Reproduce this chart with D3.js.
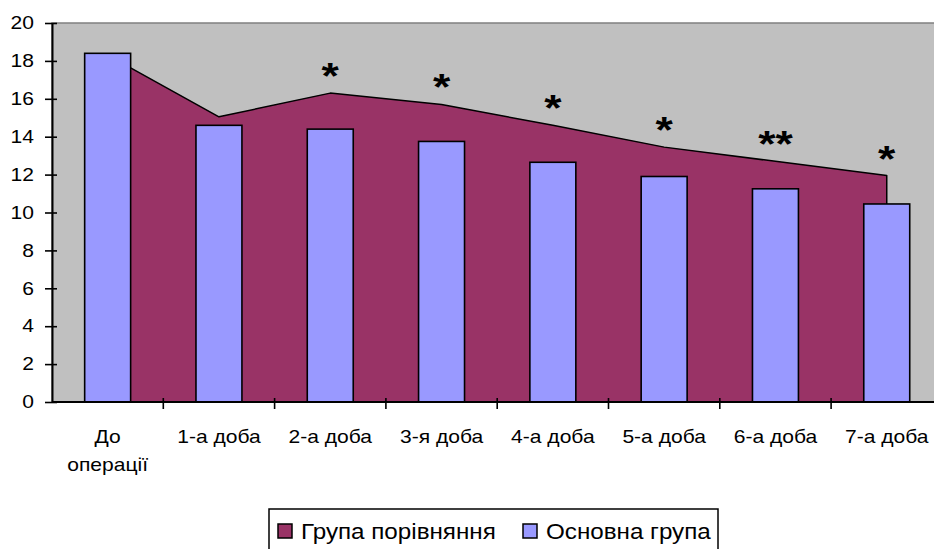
<!DOCTYPE html>
<html>
<head>
<meta charset="utf-8">
<script src="https://cdn.jsdelivr.net/npm/d3@7"></script>
<style>
  body { margin: 0; background: #fff; }
  svg { display: block; font-family: Arial, 'Liberation Sans', sans-serif; }
</style>
</head>
<body>
<div class="canvas"></div>
<script>
// data
const categories = ['До операції', '1-а доба', '2-а доба', '3-я доба', '4-а доба', '5-а доба', '6-а доба', '7-а доба'];
const comparisonGroup = [18.3, 15.05, 16.3, 15.7, 14.6, 13.45, 12.7, 11.95];
const mainGroup = [18.4, 14.6, 14.4, 13.75, 12.65, 11.9, 11.25, 10.45];
const significance = ['', '', '*', '*', '*', '*', '**', '*'];
const yTicks = [0, 2, 4, 6, 8, 10, 12, 14, 16, 18, 20];
const seriesNames = ['Група порівняння', 'Основна група'];

const colors = { comparison: '#993366', main: '#9999FF', plot: '#C0C0C0' };
const stretch = 1.17; // the original text is drawn wider than it is tall

const dims = { width: 934, height: 549 };
const plot = { left: 52, top: 23, step: 111.3, bottom: 402 };
plot.right = plot.left + plot.step * categories.length;

const svg = d3.select('.canvas')
    .append('svg')
    .attr('width', dims.width)
    .attr('height', dims.height);

const x = d3.scaleBand()
    .domain(categories)
    .range([plot.left, plot.right])
    .paddingInner(0.587)
    .paddingOuter(0.2935);

const y = d3.scaleLinear()
    .domain([0, 20])
    .range([plot.bottom, plot.top]);

const cx = c => x(c) + x.bandwidth() / 2;

// plot area background
svg.append('rect')
    .attr('x', plot.left)
    .attr('y', plot.top)
    .attr('width', plot.right - plot.left)
    .attr('height', plot.bottom - plot.top)
    .attr('fill', colors.plot)
    .attr('stroke', '#808080')
    .attr('stroke-width', 1.5);

// area series
const area = d3.area()
    .x((d, i) => cx(categories[i]))
    .y0(y(0))
    .y1(d => y(d));

svg.append('path')
    .datum(comparisonGroup)
    .attr('d', area)
    .attr('fill', colors.comparison)
    .attr('stroke', '#000')
    .attr('stroke-width', 1.5)
    .attr('stroke-linejoin', 'round');

// column series
svg.append('g')
    .selectAll('rect')
    .data(mainGroup)
    .enter()
    .append('rect')
        .attr('x', (d, i) => x(categories[i]))
        .attr('y', d => y(d))
        .attr('width', x.bandwidth())
        .attr('height', d => y(0) - y(d))
        .attr('fill', colors.main)
        .attr('stroke', '#000')
        .attr('stroke-width', 1.6);

// significance marks above the area line
significance.forEach((s, i) => {
    if (!s) return;
    svg.append('g')
        .attr('transform', `translate(${cx(categories[i])}, ${y(comparisonGroup[i]) - 4}) scale(1.2,1)`)
        .append('text')
            .attr('text-anchor', 'middle')
            .attr('font-size', 37)
            .attr('font-weight', 'bold')
            .text(s);
});

// y axis
const yAxis = d3.axisLeft(y)
    .tickValues(yTicks)
    .tickSizeOuter(0)
    .tickSizeInner(7);

const yAxisGroup = svg.append('g')
    .attr('transform', `translate(${plot.left}, 0)`)
    .call(yAxis);

yAxisGroup.select('.domain').attr('stroke', '#000').attr('stroke-width', 2);
yAxisGroup.selectAll('.tick line').attr('x2', -7).attr('x1', 5).attr('stroke-width', 1.6);
yAxisGroup.selectAll('.tick text')
    .attr('x', -18 / stretch)
    .attr('transform', `scale(${stretch},1)`)
    .attr('font-size', 18)
    .attr('fill', '#000')
    .attr('font-family', 'Arial, Liberation Sans, sans-serif');

// x axis (ticks between categories)
svg.append('line')
    .attr('x1', plot.left)
    .attr('x2', plot.right)
    .attr('y1', plot.bottom)
    .attr('y2', plot.bottom)
    .attr('stroke', '#000')
    .attr('stroke-width', 2);

svg.append('g')
    .selectAll('line')
    .data(d3.range(1, categories.length))
    .enter()
    .append('line')
        .attr('x1', i => plot.left + i * x.step())
        .attr('x2', i => plot.left + i * x.step())
        .attr('y1', plot.bottom - 4)
        .attr('y2', plot.bottom + 7)
        .attr('stroke', '#000')
        .attr('stroke-width', 1.6);

const xLabels = svg.append('g')
    .selectAll('g')
    .data(categories)
    .enter()
    .append('g')
        .attr('transform', d => `translate(${cx(d)}, 443) scale(${stretch},1)`);

xLabels.each(function(d) {
    const words = d === 'До операції' ? ['До', 'операції'] : [d];
    d3.select(this).selectAll('text')
        .data(words)
        .enter()
        .append('text')
            .attr('text-anchor', 'middle')
            .attr('y', (w, j) => j * 28)
            .attr('font-size', 18)
            .text(w => w);
});

// legend
const legend = svg.append('g');

legend.append('rect')
    .attr('x', 269)
    .attr('y', 509)
    .attr('width', 449)
    .attr('height', 60)
    .attr('fill', '#fff')
    .attr('stroke', '#000')
    .attr('stroke-width', 1.5);

const legendX = [278, 523];
const legendColors = [colors.comparison, colors.main];

seriesNames.forEach((name, i) => {
    legend.append('rect')
        .attr('x', legendX[i])
        .attr('y', 524)
        .attr('width', 14)
        .attr('height', 14)
        .attr('fill', legendColors[i])
        .attr('stroke', '#000')
        .attr('stroke-width', 1.5);
    legend.append('g')
        .attr('transform', `translate(${legendX[i] + 23}, 539) scale(1.1,1)`)
        .append('text')
            .attr('font-size', 22)
            .text(name);
});
</script>
</body>
</html>
